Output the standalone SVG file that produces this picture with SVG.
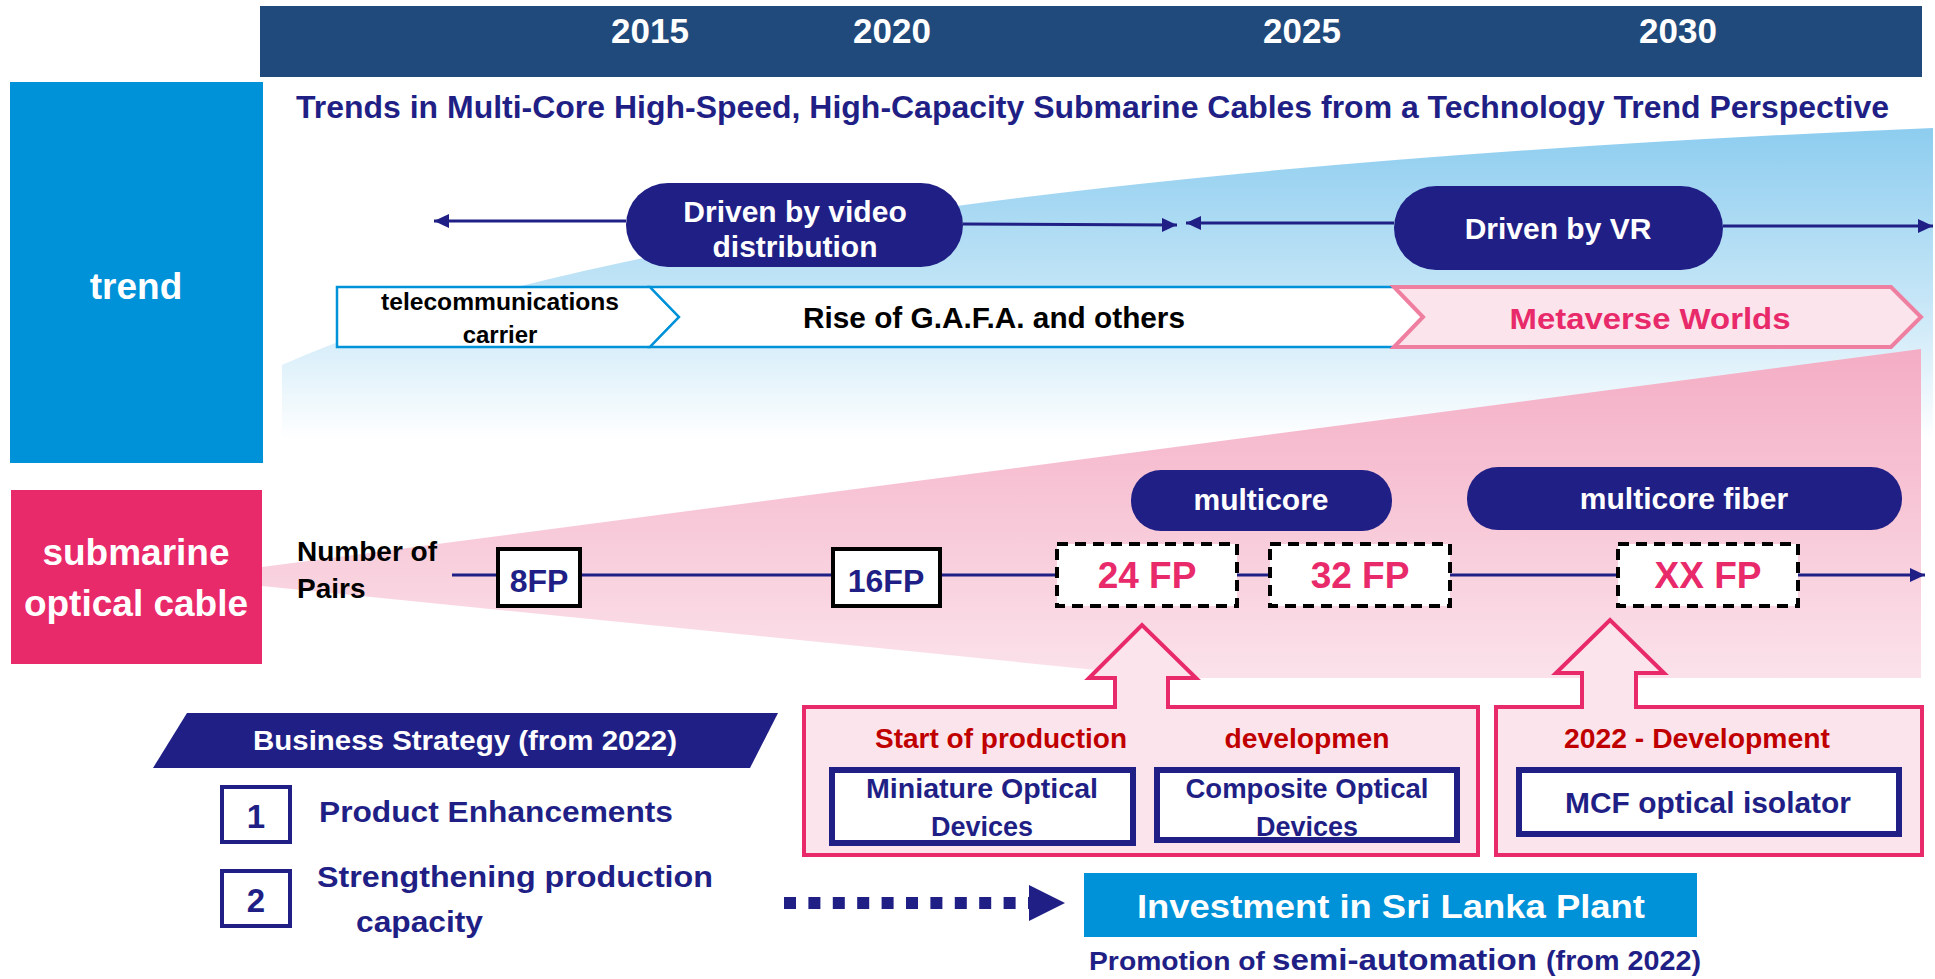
<svg xmlns="http://www.w3.org/2000/svg" width="1935" height="979" viewBox="0 0 1935 979">
<defs>
<style>
text{font-family:"Liberation Sans",Arial,sans-serif;font-weight:bold;}
.w{fill:#FFFFFF;}
.nv{fill:#1F1F86;}
.bk{fill:#000000;}
.pk{fill:#E8296A;}
.rd{fill:#C00000;}
.pill{fill:#1F1F86;}
.chev{fill:#FFFFFF;stroke:#0092D8;stroke-width:2.5;}
.fp{fill:#FFFFFF;stroke:#000000;stroke-width:4;}
.fpd{fill:#FFFFFF;stroke:#000000;stroke-width:4;stroke-dasharray:11 7;}
.call{fill:#FCE4EC;stroke:#E8296A;stroke-width:4;stroke-linejoin:miter;}
.nbox{fill:#FFFFFF;stroke:#1F1F86;stroke-width:6;}
.numbox{fill:#FFFFFF;stroke:#1F1F86;stroke-width:4;}
.ln{stroke:#1F1F86;stroke-width:3;fill:none;}
</style>
<linearGradient id="gBlue" gradientUnits="userSpaceOnUse" x1="0" y1="130" x2="0" y2="440">
<stop offset="0" stop-color="#8ECDEF"/>
<stop offset="0.55" stop-color="#C6E6F7"/>
<stop offset="1" stop-color="#FFFFFF"/>
</linearGradient>
<linearGradient id="gPink" gradientUnits="userSpaceOnUse" x1="0" y1="349" x2="0" y2="678">
<stop offset="0" stop-color="#F4ADC4"/>
<stop offset="1" stop-color="#FBE2EA"/>
</linearGradient>
<marker id="ah" viewBox="0 0 15 14" refX="15" refY="7" markerWidth="15" markerHeight="14" markerUnits="userSpaceOnUse" orient="auto">
<path d="M0,0 L15,7 L0,14 Z" fill="#1F1F86"/>
</marker>
</defs>

<g id="backgrounds">
<path d="M282,365 Q700,180 1933,128 L1933,440 L282,440 Z" fill="url(#gBlue)"/>
<path d="M262,567 L1921,349 L1921,678 L1176,678 L262,586 Z" fill="url(#gPink)"/>
</g>

<g id="header">
<rect x="260" y="6" width="1662" height="71" fill="#214A7C"/>
<text x="650" y="43" font-size="35" text-anchor="middle" class="w">2015</text>
<text x="892" y="43" font-size="35" text-anchor="middle" class="w">2020</text>
<text x="1302" y="43" font-size="35" text-anchor="middle" class="w">2025</text>
<text x="1678" y="43" font-size="35" text-anchor="middle" class="w">2030</text>
</g>

<g id="title">
<text x="296" y="118" font-size="31" class="nv" textLength="1593" lengthAdjust="spacingAndGlyphs">Trends in Multi-Core High-Speed, High-Capacity Submarine Cables from a Technology Trend Perspective</text>
</g>

<g id="trend-label">
<rect x="10" y="82" width="253" height="381" fill="#0092D8"/>
<text x="136" y="299" font-size="37" text-anchor="middle" class="w">trend</text>
</g>

<g id="cable-label">
<rect x="11" y="490" width="251" height="174" fill="#E8296A"/>
<text x="136" y="565" font-size="37" text-anchor="middle" class="w">submarine</text>
<text x="136" y="616" font-size="37" text-anchor="middle" class="w">optical cable</text>
</g>

<g id="connectors">
<line x1="626" y1="221" x2="434" y2="221" class="ln" marker-end="url(#ah)"/>
<line x1="963" y1="224" x2="1177" y2="225" class="ln" marker-end="url(#ah)"/>
<line x1="1394" y1="223" x2="1186" y2="223" class="ln" marker-end="url(#ah)"/>
<line x1="1723" y1="226" x2="1933" y2="226" class="ln" marker-end="url(#ah)"/>
<line x1="452" y1="575" x2="1925" y2="575" class="ln" marker-end="url(#ah)"/>
<line x1="784" y1="903" x2="1031" y2="903" stroke="#1F1F86" stroke-width="12" stroke-dasharray="12 12.4"/>
<polygon points="1029,885 1065,903 1029,921" fill="#1F1F86"/>
</g>

<g id="pill-video">
<rect x="626" y="183" width="337" height="84" rx="42" class="pill"/>
<text x="795" y="222" font-size="30" text-anchor="middle" class="w">Driven by video</text>
<text x="795" y="257" font-size="30" text-anchor="middle" class="w">distribution</text>
</g>

<g id="pill-vr">
<rect x="1394" y="186" width="329" height="84" rx="42" class="pill"/>
<text x="1558" y="239" font-size="30" text-anchor="middle" class="w">Driven by VR</text>
</g>

<g id="chevron-telecom">
<path d="M337,287 L650,287 L679,317 L650,347 L337,347 Z" class="chev"/>
<text x="500" y="310" font-size="24" text-anchor="middle" class="bk" textLength="238" lengthAdjust="spacingAndGlyphs">telecommunications</text>
<text x="500" y="343" font-size="24" text-anchor="middle" class="bk">carrier</text>
</g>

<g id="chevron-gafa">
<path d="M650,287 L1394,287 L1423,317 L1394,347 L650,347 L679,317 Z" class="chev"/>
<text x="994" y="328" font-size="29" text-anchor="middle" class="bk" textLength="382" lengthAdjust="spacingAndGlyphs">Rise of G.A.F.A. and others</text>
</g>

<g id="chevron-metaverse">
<path d="M1394,287 L1891,287 L1921,317 L1891,347 L1394,347 L1423,317 Z" fill="#FCE4EC" stroke="#EF7FA0" stroke-width="4"/>
<text x="1650" y="329" font-size="30" text-anchor="middle" class="pk" textLength="281" lengthAdjust="spacingAndGlyphs">Metaverse Worlds</text>
</g>

<g id="pairs-label">
<text x="297" y="561" font-size="28" class="bk">Number of</text>
<text x="297" y="598" font-size="28" class="bk">Pairs</text>
</g>

<g id="fp8">
<rect x="498" y="549" width="82" height="57" class="fp"/>
<text x="539" y="592" font-size="32" text-anchor="middle" class="nv">8FP</text>
</g>
<g id="fp16">
<rect x="833" y="549" width="107" height="57" class="fp"/>
<text x="886" y="592" font-size="32" text-anchor="middle" class="nv">16FP</text>
</g>
<g id="fp24">
<rect x="1057" y="544" width="180" height="62" class="fpd"/>
<text x="1147" y="588" font-size="37" text-anchor="middle" class="pk">24 FP</text>
</g>
<g id="fp32">
<rect x="1270" y="544" width="180" height="62" class="fpd"/>
<text x="1360" y="588" font-size="37" text-anchor="middle" class="pk">32 FP</text>
</g>
<g id="fpxx">
<rect x="1618" y="544" width="180" height="62" class="fpd"/>
<text x="1708" y="588" font-size="37" text-anchor="middle" class="pk">XX FP</text>
</g>

<g id="pill-multicore">
<rect x="1131" y="470" width="261" height="61" rx="30" class="pill"/>
<text x="1261" y="510" font-size="30" text-anchor="middle" class="w">multicore</text>
</g>
<g id="pill-mcf">
<rect x="1467" y="467" width="435" height="63" rx="31" class="pill"/>
<text x="1684" y="509" font-size="30" text-anchor="middle" class="w">multicore fiber</text>
</g>

<g id="callout-production">
<path d="M804,707 L1115,707 L1115,678 L1089,678 L1142,625 L1196,678 L1168,678 L1168,707 L1478,707 L1478,855 L804,855 Z" class="call"/>
<text x="1001" y="748" font-size="27" text-anchor="middle" class="rd" textLength="252" lengthAdjust="spacingAndGlyphs">Start of production</text>
<text x="1307" y="748" font-size="27" text-anchor="middle" class="rd" textLength="165" lengthAdjust="spacingAndGlyphs">developmen</text>
</g>
<g id="box-miniature">
<rect x="832" y="770" width="301" height="73" class="nbox"/>
<text x="982" y="798" font-size="27" text-anchor="middle" class="nv" textLength="232" lengthAdjust="spacingAndGlyphs">Miniature Optical</text>
<text x="982" y="836" font-size="27" text-anchor="middle" class="nv">Devices</text>
</g>
<g id="box-composite">
<rect x="1157" y="770" width="300" height="70" class="nbox"/>
<text x="1307" y="798" font-size="27" text-anchor="middle" class="nv" textLength="243" lengthAdjust="spacingAndGlyphs">Composite Optical</text>
<text x="1307" y="836" font-size="27" text-anchor="middle" class="nv">Devices</text>
</g>

<g id="callout-development">
<path d="M1496,707 L1582,707 L1582,673 L1556,673 L1610,620 L1664,673 L1636,673 L1636,707 L1922,707 L1922,855 L1496,855 Z" class="call"/>
<text x="1697" y="748" font-size="27" text-anchor="middle" class="rd" textLength="266" lengthAdjust="spacingAndGlyphs">2022 - Development</text>
</g>
<g id="box-mcf-isolator">
<rect x="1519" y="770" width="380" height="64" class="nbox"/>
<text x="1708" y="813" font-size="29" text-anchor="middle" class="nv" textLength="286" lengthAdjust="spacingAndGlyphs">MCF optical isolator</text>
</g>

<g id="business-strategy">
<polygon points="187,713 778,713 750,768 153,768" fill="#1F1F86"/>
<text x="465" y="750" font-size="27" text-anchor="middle" class="w" textLength="424" lengthAdjust="spacingAndGlyphs">Business Strategy (from 2022)</text>
</g>

<g id="item-1">
<rect x="222" y="787" width="68" height="55" class="numbox"/>
<text x="256" y="828" font-size="33" text-anchor="middle" class="nv">1</text>
<text x="319" y="822" font-size="30" class="nv" textLength="354" lengthAdjust="spacingAndGlyphs">Product Enhancements</text>
</g>
<g id="item-2">
<rect x="222" y="871" width="68" height="55" class="numbox"/>
<text x="256" y="912" font-size="33" text-anchor="middle" class="nv">2</text>
<text x="317" y="887" font-size="30" class="nv" textLength="396" lengthAdjust="spacingAndGlyphs">Strengthening production</text>
<text x="356" y="932" font-size="30" class="nv" textLength="127" lengthAdjust="spacingAndGlyphs">capacity</text>
</g>

<g id="investment">
<rect x="1084" y="873" width="613" height="64" fill="#0092D8"/>
<text x="1391" y="918" font-size="34" text-anchor="middle" class="w" textLength="508" lengthAdjust="spacingAndGlyphs">Investment in Sri Lanka Plant</text>
<text y="970" class="nv"><tspan x="1089" font-size="26" textLength="176" lengthAdjust="spacingAndGlyphs">Promotion of</tspan><tspan x="1272" font-size="30" textLength="265" lengthAdjust="spacingAndGlyphs">semi-automation</tspan><tspan x="1546" font-size="27" textLength="155" lengthAdjust="spacingAndGlyphs">(from 2022)</tspan></text>
</g>
</svg>
